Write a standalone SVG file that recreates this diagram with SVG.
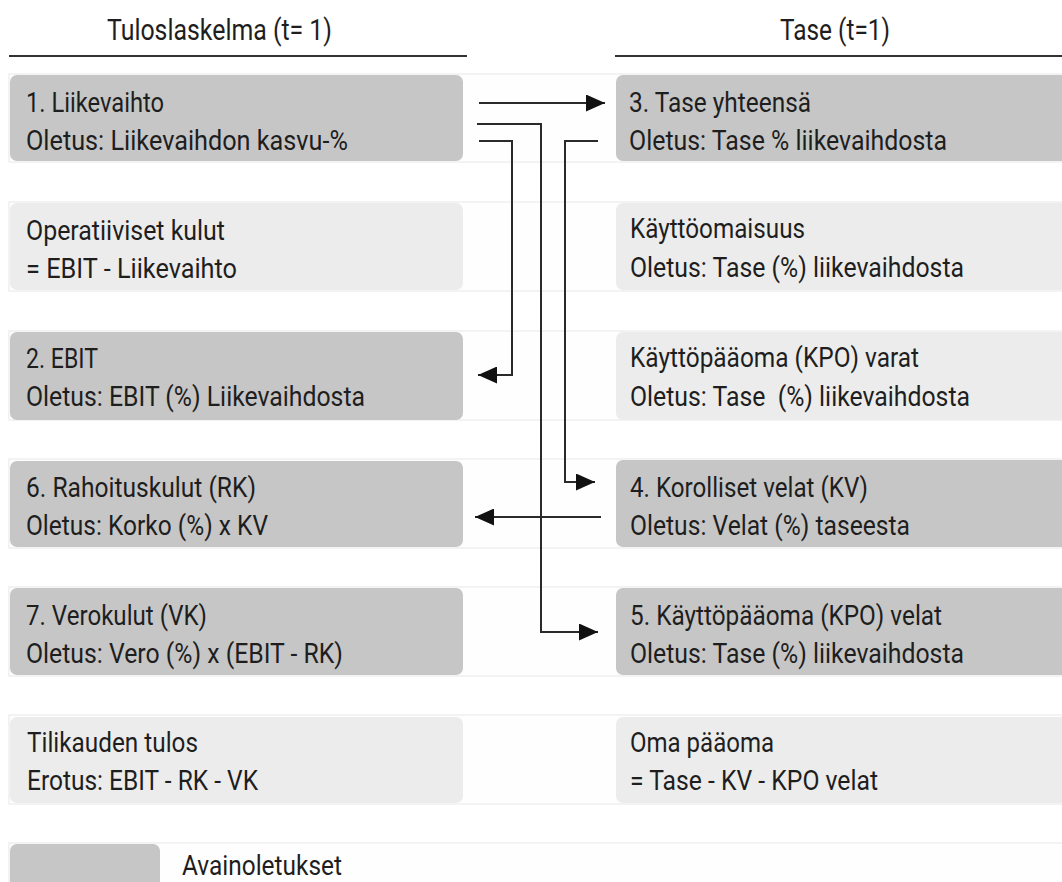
<svg xmlns="http://www.w3.org/2000/svg" width="1062" height="882" viewBox="0 0 1062 882">
<style>
text{font-family:Roboto,"Noto Sans","Liberation Sans",sans-serif;font-size:28px;fill:#1e1e1e;white-space:pre}
.hd{font-size:29px}
.band{fill:#fefefe;stroke:#efefef;stroke-width:1.5}
.key{fill:#c6c6c6}
.plain{fill:#ececec}
.hr{stroke:#333;stroke-width:2}
.cn{fill:none;stroke:#2a2a2a;stroke-width:2}
</style>
<defs>
<marker id="ah" markerUnits="userSpaceOnUse" markerWidth="19" markerHeight="17" refX="19" refY="8.5" orient="auto">
<path d="M0,0 L19,8.5 L0,17 z" fill="#111"/>
</marker>
</defs>
<rect width="1062" height="882" fill="#fff"/>
<g id="bands">
<rect class="band" x="9" y="74" width="1060" height="88"/>
<rect class="band" x="9" y="202" width="1060" height="89"/>
<rect class="band" x="9" y="331" width="1060" height="89"/>
<rect class="band" x="9" y="459" width="1060" height="89"/>
<rect class="band" x="9" y="587" width="1060" height="89"/>
<rect class="band" x="9" y="715" width="1060" height="89"/>
<rect class="band" x="9" y="843" width="1060" height="60"/>
</g>
<g id="headers">
<text class="hd" x="107" y="40" textLength="225" lengthAdjust="spacingAndGlyphs">Tuloslaskelma (t= 1)</text>
<line class="hr" x1="9" y1="56" x2="467" y2="56"/>
<text class="hd" x="780" y="40" textLength="110" lengthAdjust="spacingAndGlyphs">Tase (t=1)</text>
<line class="hr" x1="615" y1="56" x2="1062" y2="56"/>
</g>
<g id="liikevaihto">
<rect class="key" x="10" y="75" width="453" height="86" rx="7"/>
<text x="26" y="112" textLength="138" lengthAdjust="spacingAndGlyphs">1. Liikevaihto</text>
<text x="26" y="150" textLength="322" lengthAdjust="spacingAndGlyphs">Oletus: Liikevaihdon kasvu-%</text>
</g>
<g id="operatiiviset">
<rect class="plain" x="10" y="203" width="453" height="87" rx="7"/>
<text x="26" y="240" textLength="199" lengthAdjust="spacingAndGlyphs">Operatiiviset kulut</text>
<text x="26" y="278" textLength="211" lengthAdjust="spacingAndGlyphs">= EBIT - Liikevaihto</text>
</g>
<g id="ebit">
<rect class="key" x="10" y="332" width="453" height="88" rx="7"/>
<text x="26" y="368" textLength="72" lengthAdjust="spacingAndGlyphs">2. EBIT</text>
<text x="26" y="406" textLength="339" lengthAdjust="spacingAndGlyphs">Oletus: EBIT (%) Liikevaihdosta</text>
</g>
<g id="rahoituskulut">
<rect class="key" x="10" y="461" width="453" height="86" rx="7"/>
<text x="26" y="497" textLength="230" lengthAdjust="spacingAndGlyphs">6. Rahoituskulut (RK)</text>
<text x="26" y="535" textLength="242" lengthAdjust="spacingAndGlyphs">Oletus: Korko (%) x KV</text>
</g>
<g id="verokulut">
<rect class="key" x="10" y="588" width="453" height="87" rx="7"/>
<text x="26" y="625" textLength="181" lengthAdjust="spacingAndGlyphs">7. Verokulut (VK)</text>
<text x="26" y="663" textLength="317" lengthAdjust="spacingAndGlyphs">Oletus: Vero (%) x (EBIT - RK)</text>
</g>
<g id="tilikauden-tulos">
<rect class="plain" x="10" y="717" width="453" height="86" rx="7"/>
<text x="27" y="752" textLength="171" lengthAdjust="spacingAndGlyphs">Tilikauden tulos</text>
<text x="27" y="790" textLength="231" lengthAdjust="spacingAndGlyphs">Erotus: EBIT - RK - VK</text>
</g>
<g id="tase-yhteensa">
<rect class="key" x="616" y="75" width="460" height="86" rx="7"/>
<text x="629" y="112" textLength="182" lengthAdjust="spacingAndGlyphs">3. Tase yhteensä</text>
<text x="629" y="150" textLength="318" lengthAdjust="spacingAndGlyphs">Oletus: Tase % liikevaihdosta</text>
</g>
<g id="kayttoomaisuus">
<rect class="plain" x="616" y="203" width="460" height="87" rx="7"/>
<text x="630" y="238" textLength="175" lengthAdjust="spacingAndGlyphs">Käyttöomaisuus</text>
<text x="630" y="277" textLength="334" lengthAdjust="spacingAndGlyphs">Oletus: Tase (%) liikevaihdosta</text>
</g>
<g id="kpo-varat">
<rect class="plain" x="616" y="332" width="460" height="88" rx="7"/>
<text x="630" y="367" textLength="289" lengthAdjust="spacingAndGlyphs">Käyttöpääoma (KPO) varat</text>
<text x="630" y="406" textLength="340" lengthAdjust="spacingAndGlyphs">Oletus: Tase  (%) liikevaihdosta</text>
</g>
<g id="korolliset-velat">
<rect class="key" x="616" y="460" width="460" height="87" rx="7"/>
<text x="630" y="497" textLength="238" lengthAdjust="spacingAndGlyphs">4. Korolliset velat (KV)</text>
<text x="630" y="535" textLength="280" lengthAdjust="spacingAndGlyphs">Oletus: Velat (%) taseesta</text>
</g>
<g id="kpo-velat">
<rect class="key" x="616" y="588" width="460" height="87" rx="7"/>
<text x="630" y="625" textLength="312" lengthAdjust="spacingAndGlyphs">5. Käyttöpääoma (KPO) velat</text>
<text x="630" y="663" textLength="334" lengthAdjust="spacingAndGlyphs">Oletus: Tase (%) liikevaihdosta</text>
</g>
<g id="oma-paaoma">
<rect class="plain" x="616" y="717" width="460" height="86" rx="7"/>
<text x="630" y="752" textLength="144" lengthAdjust="spacingAndGlyphs">Oma pääoma</text>
<text x="630" y="790" textLength="248" lengthAdjust="spacingAndGlyphs">= Tase - KV - KPO velat</text>
</g>
<g id="legend">
<rect class="key" x="10" y="844" width="150" height="60" rx="7"/>
<text x="182" y="875" textLength="160" lengthAdjust="spacingAndGlyphs">Avainoletukset</text>
</g>
<g id="connectors">
<path class="cn" d="M479,103 H605" marker-end="url(#ah)"/>
<path class="cn" d="M477,124 H541 V632 H598" marker-end="url(#ah)"/>
<path class="cn" d="M479,141 H512 V375 H478" marker-end="url(#ah)"/>
<path class="cn" d="M598,141 H565 V482 H595" marker-end="url(#ah)"/>
<path class="cn" d="M601,517 H475" marker-end="url(#ah)"/>
</g>
</svg>
